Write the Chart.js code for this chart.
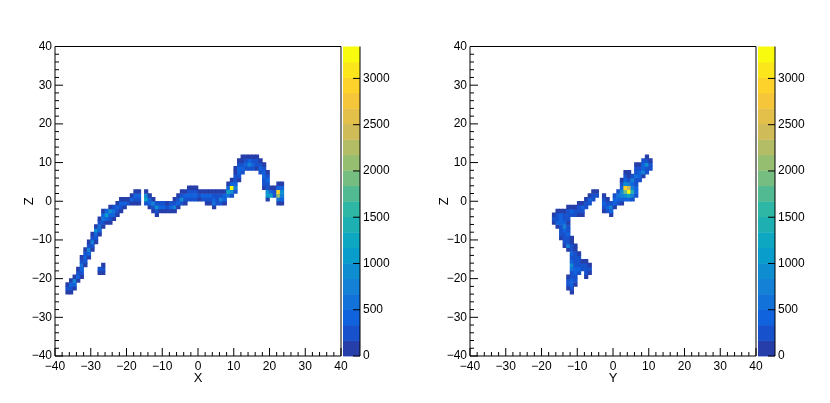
<!DOCTYPE html>
<html>
<head>
<meta charset="utf-8">
<script src="https://cdn.jsdelivr.net/npm/chart.js@4.4.0/dist/chart.umd.min.js"></script>
<style>
	body { margin: 0; background: #fff; }
	#wrap { position: relative; width: 830px; height: 403px; }
	canvas { position: absolute; top: 0; }
</style>
</head>
<body>
<div id="wrap">
	<canvas id="xz_chart" width="415" height="403" style="left:0px"></canvas>
	<canvas id="yz_chart" width="415" height="403" style="left:415px"></canvas>
</div>
<script>
// each column: [bin low edge, lowest filled z bin, counts going up in z]
var xzColumns = [
	[-37, -24, [150, 300, 120]],
	[-36, -24, [100, 250, 400, 130]],
	[-35, -23, [120, 350, 700, 150]],
	[-34, -21, [130, 400, 280, 110]],
	[-33, -20, [90, 200, 350, 600, 250, 100]],
	[-32, -17, [140, 300, 450, 220, 90]],
	[-31, -15, [110, 380, 700, 260, 100]],
	[-30, -13, [120, 320, 800, 300, 110]],
	[-29, -11, [100, 250, 500, 1000, 150]],
	[-28, -19, [120, 180]],
	[-28, -9, [130, 350, 600, 280, 90]],
	[-27, -19, [150, 300, 110]],
	[-27, -7, [110, 300, 650, 400, 120]],
	[-26, -6, [100, 450, 1100, 350]],
	[-25, -6, [90, 200, 500, 900, 150]],
	[-24, -5, [120, 350, 600, 200]],
	[-23, -4, [100, 300, 450, 130]],
	[-22, -3, [110, 280, 500, 140]],
	[-21, -2, [150, 400, 120]],
	[-20, -1, [200, 130]],
	[-19, -1, [120, 350, 110]],
	[-18, -1, [100, 300, 500, 130]],
	[-17, -1, [90, 250, 400, 150]],
	[-15, -1, [200, 1200, 900, 150]],
	[-14, -2, [130, 400, 500, 120]],
	[-13, -3, [110, 300, 700, 150]],
	[-12, -4, [100, 250, 900, 200]],
	[-11, -3, [120, 450, 250]],
	[-10, -3, [150, 350, 200]],
	[-9, -3, [100, 300, 150]],
	[-8, -3, [130, 400, 180]],
	[-7, -3, [110, 800, 300, 100]],
	[-6, -2, [140, 400, 250, 90]],
	[-5, -1, [200, 1000, 300, 120]],
	[-4, -1, [100, 300, 450, 150]],
	[-3, 0, [250, 400, 300, 120]],
	[-2, 0, [300, 500, 250, 110]],
	[-1, 0, [200, 350, 250, 100]],
	[0, 0, [150, 300, 130]],
	[1, 0, [200, 400, 150]],
	[2, -1, [130, 250, 350, 120]],
	[3, -1, [110, 300, 400, 150]],
	[4, -2, [150, 600, 350, 250, 100]],
	[5, -1, [300, 250, 200, 120]],
	[6, -1, [250, 700, 300, 110]],
	[7, -1, [120, 500, 400, 150]],
	[8, 1, [600, 1200, 350, 120]],
	[9, 1, [300, 900, 3250, 500, 130]],
	[10, 2, [200, 700, 450, 300, 250, 150, 100]],
	[11, 5, [150, 300, 450, 350, 200, 120]],
	[12, 7, [200, 400, 300, 150, 100]],
	[13, 8, [250, 350, 300, 150]],
	[14, 8, [300, 700, 400, 130]],
	[15, 8, [200, 350, 300, 150]],
	[16, 8, [150, 250, 200, 100]],
	[17, 7, [200, 450, 300, 120]],
	[18, 3, [150, 300, 250, 350, 400, 200, 100]],
	[19, 0, [130, 1100, 900, 300, 250, 350, 200, 110]],
	[20, 1, [1100, 400, 150]],
	[21, 1, [300, 250, 120]],
	[22, -1, [150, 600, 2100, 2900, 500, 130]],
	[23, -1, [120, 400, 800, 900, 350, 100]]
];

var yzColumns = [
	[-17, -6, [150, 300, 120]],
	[-16, -7, [120, 450, 300, 200, 100]],
	[-15, -10, [100, 200, 300, 250, 400, 500, 350, 150]],
	[-14, -12, [150, 300, 250, 200, 350, 700, 400, 300, 250, 120]],
	[-13, -23, [120, 250, 300, 150]],
	[-13, -13, [130, 700, 300, 250, 400, 300, 200, 150, 250, 300, 200, 100]],
	[-12, -24, [110, 200, 350, 400, 300, 250, 600, 1000, 450, 300, 350, 250, 200, 150, 130]],
	[-12, -4, [250, 350, 150]],
	[-11, -22, [150, 300, 250, 400, 350, 300, 250, 300, 200, 150, 120]],
	[-11, -4, [200, 300, 130]],
	[-10, -19, [200, 350, 300, 250, 200, 150]],
	[-10, -4, [150, 250, 300, 120]],
	[-9, -18, [300, 250, 150]],
	[-9, -4, [120, 200, 350, 150]],
	[-8, -20, [150, 200, 300, 250, 120]],
	[-8, -2, [200, 300, 150]],
	[-7, -19, [130, 250, 150]],
	[-7, -1, [250, 350, 150]],
	[-6, 0, [200, 300, 150]],
	[-5, 1, [300, 120]],
	[-3, -3, [150, 300, 450, 250, 120]],
	[-2, -3, [200, 350, 300, 150]],
	[-1, -4, [120, 400, 700, 300]],
	[0, -2, [150, 350, 500, 200]],
	[1, -1, [200, 400, 600, 250]],
	[2, -1, [130, 450, 700, 1000, 400, 200, 110]],
	[3, 0, [350, 900, 2000, 3000, 900, 400, 200, 120]],
	[4, 0, [500, 1300, 3300, 2500, 700, 300, 150, 100]],
	[5, 0, [300, 700, 1500, 800, 500, 800, 200]],
	[6, 1, [250, 400, 350, 300, 250, 600, 300, 200, 120]],
	[7, 5, [200, 350, 500, 300, 150]],
	[8, 6, [150, 800, 400, 350, 200]],
	[9, 7, [200, 300, 1000, 300, 150]],
	[10, 8, [300, 250, 150]]
];

var axisTicks = [-40, -30, -20, -10, 0, 10, 20, 30, 40];
var paletteTicks = [0, 500, 1000, 1500, 2000, 2500, 3000];
var zMax = 3345;
var nContours = 20;

// kBird palette from ROOT
var birdStops = [0.0, 0.125, 0.25, 0.375, 0.5, 0.625, 0.75, 0.875, 1.0];
var birdR = [0.2082, 0.0592, 0.0780, 0.0232, 0.1802, 0.5301, 0.8186, 0.9956, 0.9764];
var birdG = [0.1664, 0.3599, 0.5041, 0.6419, 0.7178, 0.7492, 0.7328, 0.7862, 0.9832];
var birdB = [0.5293, 0.8684, 0.8385, 0.7914, 0.6425, 0.4662, 0.3499, 0.1968, 0.0539];

var fontFamily = "'Liberation Sans', Arial, Helvetica, sans-serif";

function birdColor(v) {
	var band = Math.max(0, Math.min(nContours - 1, Math.floor(v / (zMax / nContours))));
	var f = (band + 0.99) / nContours;
	var i = 0;
	while (i < birdStops.length - 2 && f > birdStops[i + 1]) i++;
	var t = (f - birdStops[i]) / (birdStops[i + 1] - birdStops[i]);
	var r = Math.round(255 * (birdR[i] + t * (birdR[i + 1] - birdR[i])));
	var g = Math.round(255 * (birdG[i] + t * (birdG[i + 1] - birdG[i])));
	var b = Math.round(255 * (birdB[i] + t * (birdB[i + 1] - birdB[i])));
	return 'rgb(' + r + ',' + g + ',' + b + ')';
}

function buildCells(columns) {
	var cells = [];
	for (var i = 0; i < columns.length; i++) {
		var col = columns[i];
		for (var j = 0; j < col[2].length; j++) {
			var z = col[1] + j;
			cells.push({x: col[0] + 0.5, y: [z, z + 1], v: col[2][j]});
		}
	}
	return cells;
}

function fmtTick(v) {
	return v < 0 ? '\u2212' + Math.abs(v) : String(v);
}

//frame, inside ticks and the colour palette, ROOT style
var rootFrame = {
	id: 'rootFrame',
	beforeDraw: function(chart) {
		var c = chart.ctx;
		c.save();
		c.fillStyle = '#fff';
		c.fillRect(0, 0, chart.width, chart.height);
		c.restore();
	},
	afterDatasetsDraw: function(chart) {
		var c = chart.ctx;
		var a = chart.chartArea;
		var xs = chart.scales.x, ys = chart.scales.y, ps = chart.scales.pal;
		c.save();

		var step = zMax / nContours;
		var pl = a.right + 2, pr = a.right + 19;
		for (var b = 0; b < nContours; b++) {
			var y0 = ps.getPixelForValue(b * step);
			var y1 = ps.getPixelForValue((b + 1) * step);
			c.fillStyle = birdColor(b * step + step / 2);
			c.fillRect(pl, y1, pr - pl, y0 - y1 + 0.4);
		}

		c.strokeStyle = '#000';
		c.lineWidth = 1;
		c.beginPath();
		c.rect(a.left, a.top, a.right - a.left, a.bottom - a.top);

		for (var v = -40; v <= 40; v += 2) {
			var len = v % 10 === 0 ? 8 : 4;
			var px = xs.getPixelForValue(v);
			c.moveTo(px, a.bottom);
			c.lineTo(px, a.bottom - len);
			var py = ys.getPixelForValue(v);
			c.moveTo(a.left, py);
			c.lineTo(a.left + len, py);
		}

		c.moveTo(pr, a.top);
		c.lineTo(pr, a.bottom);
		for (var k = 0; k < paletteTicks.length; k++) {
			var ty = ps.getPixelForValue(paletteTicks[k]);
			c.moveTo(pr, ty);
			c.lineTo(pr - 7, ty);
		}
		c.stroke();
		c.restore();
	}
};

function makeChart(id, columns, xTitle, yTitle) {
	var ctx = document.getElementById(id).getContext('2d');
	var tickFont = {family: fontFamily, size: 12};
	var titleFont = {family: fontFamily, size: 13};

	return new Chart(ctx, {
		type: 'bar',
		data: {
			datasets: [{
				data: buildCells(columns),
				xAxisID: 'x',
				yAxisID: 'y',
				backgroundColor: function(c) {
					return c.raw ? birdColor(c.raw.v) : 'rgba(0,0,0,0)';
				},
				borderWidth: 0,
				barPercentage: 1,
				categoryPercentage: 1
			}]
		},
		options: {
			responsive: false,
			animation: false,
			events: [],
			layout: {padding: {top: 46.5, left: 0, right: 0, bottom: 0}},
			plugins: {
				legend: {display: false},
				tooltip: {enabled: false}
			},
			scales: {
				x: {
					type: 'linear',
					position: 'bottom',
					min: -40,
					max: 40,
					offset: false,
					grid: {display: false, drawTicks: false},
					border: {display: false},
					ticks: {autoSkip: false, maxRotation: 0, padding: 3, color: '#000', font: tickFont, callback: fmtTick},
					afterBuildTicks: function(s) {
						s.ticks = axisTicks.map(function(v) { return {value: v}; });
					},
					afterFit: function(s) { s.height = 47; },
					title: {display: true, text: xTitle, color: '#000', font: titleFont, padding: {top: 0, bottom: 17}}
				},
				y: {
					type: 'linear',
					position: 'left',
					min: -40,
					max: 40,
					grid: {display: false, drawTicks: false},
					border: {display: false},
					ticks: {autoSkip: false, padding: 3, color: '#000', font: tickFont, callback: fmtTick},
					afterBuildTicks: function(s) {
						s.ticks = axisTicks.map(function(v) { return {value: v}; });
					},
					afterFit: function(s) { s.width = 55; },
					title: {display: true, text: yTitle, color: '#000', font: titleFont, padding: {top: 22, bottom: 0}}
				},
				pal: {
					type: 'linear',
					axis: 'y',
					position: 'right',
					min: 0,
					max: zMax,
					grid: {display: false, drawTicks: false},
					border: {display: false},
					ticks: {autoSkip: false, padding: 22, color: '#000', font: tickFont, callback: fmtTick},
					afterBuildTicks: function(s) {
						s.ticks = paletteTicks.map(function(v) { return {value: v}; });
					},
					afterFit: function(s) { s.width = 74; }
				}
			}
		},
		plugins: [rootFrame]
	});
}

window.onload = function() {
	makeChart('xz_chart', xzColumns, 'X', 'Z');
	makeChart('yz_chart', yzColumns, 'Y', 'Z');
};
</script>
</body>
</html>
